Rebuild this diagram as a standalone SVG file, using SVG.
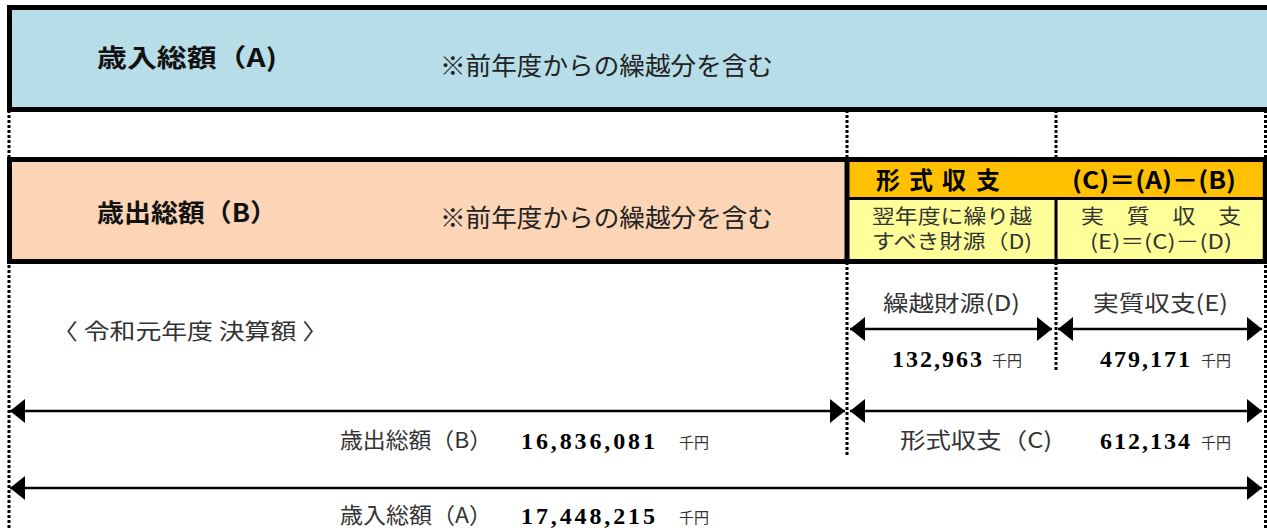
<svg xmlns="http://www.w3.org/2000/svg" width="1267" height="528" viewBox="0 0 1267 528">
<style>
.jp{font-family:"Noto Sans CJK JP","Noto Sans",sans-serif;fill:#222}
.tt{font-size:25px;font-weight:bold;fill:#111}
.nt{font-size:25px}
.hd{font-size:24px;font-weight:bold;fill:#000}
.yl{font-size:20px;fill:#333}
.lb{font-size:22px;fill:#333}
.num{font-family:"Liberation Serif","DejaVu Serif",serif;font-size:24px;font-weight:bold;fill:#000}
.un{font-size:15px;fill:#333}
.dot{stroke:#000;stroke-width:3;stroke-dasharray:3 2;fill:none}
.arr{stroke:#000;stroke-width:2.5;fill:none;marker-start:url(#ah);marker-end:url(#ah)}
</style>
<defs>
<marker id="ah" markerUnits="userSpaceOnUse" markerWidth="16" markerHeight="24" refX="15" refY="12" orient="auto-start-reverse" viewBox="0 0 16 24">
<path d="M0,0 L15,12 L0,24 Z" fill="#000"/>
</marker>
</defs>
<rect width="1267" height="528" fill="#fff"/>
<g id="guides">
<line class="dot" x1="9" y1="110" x2="9" y2="528"/>
<line class="dot" x1="847" y1="110" x2="847" y2="160"/>
<line class="dot" x1="1056" y1="110" x2="1056" y2="160"/>
<line class="dot" x1="1265.5" y1="110" x2="1265.5" y2="528"/>
<line class="dot" x1="847" y1="262" x2="847" y2="456"/>
<line class="dot" x1="1056" y1="262" x2="1056" y2="372"/>
</g>
<g id="revenue-box">
<rect x="9.5" y="7.5" width="1265" height="102" fill="#B7DDE8" stroke="#000" stroke-width="5"/>
<text class="jp tt" x="97" y="67" textLength="180" lengthAdjust="spacingAndGlyphs">歳入総額（A)</text>
<text class="jp nt" x="440" y="75" textLength="333" lengthAdjust="spacingAndGlyphs">※前年度からの繰越分を含む</text>
</g>
<g id="expenditure-box">
<rect x="9.5" y="159.5" width="1255.5" height="102" fill="#FBD5B5" stroke="#000" stroke-width="5"/>
<text class="jp tt" x="97" y="222" textLength="180" lengthAdjust="spacingAndGlyphs">歳出総額（B）</text>
<text class="jp nt" x="440" y="227" textLength="333" lengthAdjust="spacingAndGlyphs">※前年度からの繰越分を含む</text>
</g>
<g id="formal-balance">
<rect x="849.5" y="162" width="413" height="36" fill="#FFC000"/>
<line x1="849" y1="198.5" x2="1263" y2="198.5" stroke="#000" stroke-width="3"/>
<text class="jp hd" x="876 909 942 976" y="189">形式収支</text>
<text class="jp hd" x="1072" y="189" textLength="164" lengthAdjust="spacingAndGlyphs">(C)＝(A)－(B)</text>
</g>
<g id="carryover-source">
<rect x="849.5" y="200" width="206" height="59" fill="#FFFF99"/>
<text class="jp yl" x="872" y="224" textLength="160" lengthAdjust="spacingAndGlyphs">翌年度に繰り越</text>
<text class="jp yl" x="872" y="249" textLength="160" lengthAdjust="spacingAndGlyphs">すべき財源（D)</text>
</g>
<g id="real-balance">
<rect x="1057.5" y="200" width="205" height="59" fill="#FFFF99"/>
<line x1="1056" y1="198" x2="1056" y2="260" stroke="#000" stroke-width="3"/>
<text class="jp yl" x="1081" y="224" textLength="160" lengthAdjust="spacingAndGlyphs">実　質　収　支</text>
<text class="jp yl" x="1090" y="249" textLength="142" lengthAdjust="spacingAndGlyphs">(E)＝(C)－(D)</text>
</g>
<line x1="847" y1="160" x2="847" y2="262" stroke="#000" stroke-width="5"/>
<g id="connectors">
<line class="arr" x1="850" y1="329" x2="1052" y2="329"/>
<line class="arr" x1="1058" y1="329" x2="1262" y2="329"/>
<line class="arr" x1="10" y1="411" x2="845" y2="411"/>
<line class="arr" x1="850" y1="411" x2="1262" y2="411"/>
<line class="arr" x1="10" y1="488" x2="1262" y2="488"/>
</g>
<g id="labels">
<text class="jp lb" x="52" y="339" textLength="276" lengthAdjust="spacingAndGlyphs">〈 令和元年度 決算額 〉</text>
<text class="jp lb" x="883" y="311" textLength="137" lengthAdjust="spacingAndGlyphs">繰越財源(D)</text>
<text class="jp lb" x="1093" y="311" textLength="135" lengthAdjust="spacingAndGlyphs">実質収支(E)</text>
<text class="num" x="892" y="367" textLength="90" lengthAdjust="spacing">132,963</text>
<text class="jp un" x="992" y="366">千円</text>
<text class="num" x="1100" y="367" textLength="90" lengthAdjust="spacing">479,171</text>
<text class="jp un" x="1201" y="366">千円</text>
<text class="jp lb" x="340" y="448" textLength="152" lengthAdjust="spacingAndGlyphs">歳出総額（B）</text>
<text class="num" x="521" y="449" textLength="134" lengthAdjust="spacing">16,836,081</text>
<text class="jp un" x="679" y="448">千円</text>
<text class="jp lb" x="900" y="448" textLength="152" lengthAdjust="spacingAndGlyphs">形式収支（C)</text>
<text class="num" x="1100" y="449" textLength="90" lengthAdjust="spacing">612,134</text>
<text class="jp un" x="1201" y="448">千円</text>
<text class="jp lb" x="340" y="523" textLength="152" lengthAdjust="spacingAndGlyphs">歳入総額（A）</text>
<text class="num" x="521" y="524" textLength="134" lengthAdjust="spacing">17,448,215</text>
<text class="jp un" x="679" y="523">千円</text>
</g>
</svg>
